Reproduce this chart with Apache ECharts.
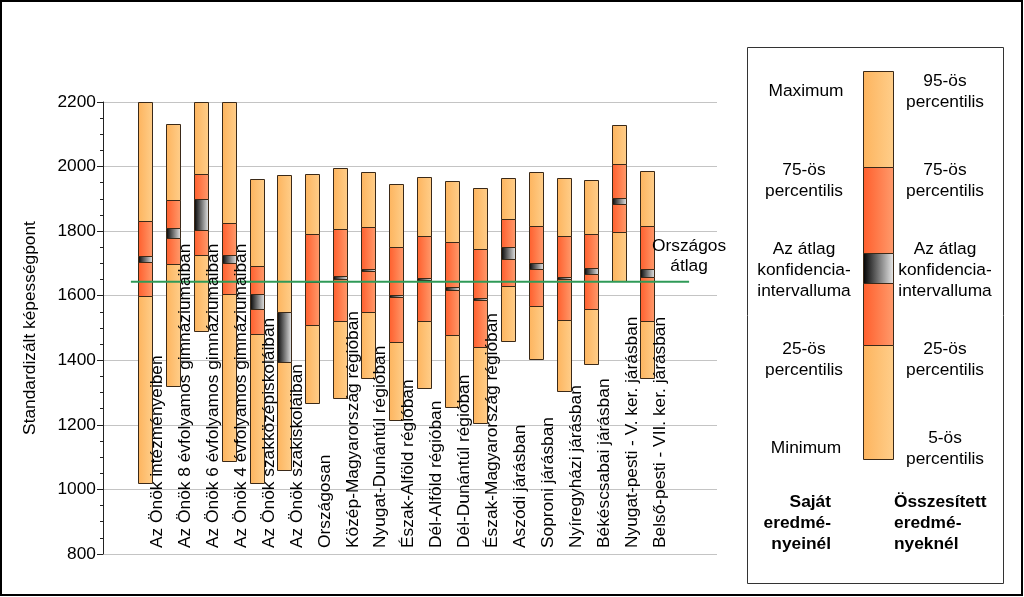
<!DOCTYPE html>
<html>
<head>
<meta charset="utf-8">
<script src="https://cdn.jsdelivr.net/npm/echarts@6/dist/echarts.min.js"></script>
<style>
html,body{margin:0;padding:0;background:#fff;}
#chart{width:1024px;height:597px;}
</style>
</head>
<body>
<div id="chart"></div>
<script>
// ---- data ----
const categories = [
  "Az Önök intézményeiben",
  "Az Önök 8 évfolyamos gimnáziumaiban",
  "Az Önök 6 évfolyamos gimnáziumaiban",
  "Az Önök 4 évfolyamos gimnáziumaiban",
  "Az Önök szakközépiskoláiban",
  "Az Önök szakiskoláiban",
  "Országosan",
  "Közép-Magyarország régióban",
  "Nyugat-Dunántúl régióban",
  "Észak-Alföld régióban",
  "Dél-Alföld régióban",
  "Dél-Dunántúl régióban",
  "Észak-Magyarország régióban",
  "Aszódi járásban",
  "Soproni járásban",
  "Nyíregyházi járásban",
  "Békéscsabai járásban",
  "Nyugat-pesti - V. ker. járásban",
  "Belső-pesti - VII. ker. járásban"
];
const lowValues  = [1021,1320,1492,1088,1021,1060,1267,1282,1346,1215,1315,1256,1205,1461,1403,1305,1388,1646,1344];
const p25Values  = [1599,1697,1727,1604,1480,1396,1508,1523,1550,1457,1523,1478,1440,1630,1568,1524,1558,1796,1523];
const ciLoValues = [1705,1778,1804,1700,1558,1396,1641,1653,1676,1596,1650,1619,1586,1713,1684,1651,1667,1883,1657];
const ciHiValues = [1723,1811,1899,1725,1605,1549,1645,1661,1682,1603,1656,1626,1593,1752,1700,1657,1685,1902,1682];
const p75Values  = [1832,1896,1976,1824,1692,1549,1790,1806,1814,1752,1784,1767,1744,1838,1817,1786,1790,2008,1815];
const highValues = [2200,2132,2200,2200,1960,1973,1977,1995,1984,1945,1967,1956,1933,1964,1984,1964,1958,2129,1987];
const nationalMean = 1643;
const yTicks = [800,1000,1200,1400,1600,1800,2000,2200];

// ---- styles ----
const FONT = 'Liberation Sans, Arial, sans-serif';
const FS = 17.33;
const light = {type:'linear',x:0,y:0,x2:1,y2:0,colorStops:[{offset:0,color:'#FDB45E'},{offset:1,color:'#FFCE8A'}]};
const orange = {type:'linear',x:0,y:0,x2:1,y2:0,colorStops:[{offset:0,color:'#FF5E2C'},{offset:1,color:'#FF9B6C'}]};
const ci = {type:'linear',x:0,y:0,x2:1,y2:0,colorStops:[{offset:0,color:'#000000'},{offset:1,color:'#EAEAEA'}]};
const STROKE = '#3a2918';
const segFills = [light, orange, ci, orange, light];
const BAR_HALF = 7;
const LABEL_SHIFT = 0.45;

const boxData = categories.map((c, i) => [i, lowValues[i], p25Values[i], ciLoValues[i], ciHiValues[i], p75Values[i], highValues[i]]);

function renderBox(params, api) {
  const x = api.value(0);
  const vals = [1,2,3,4,5,6].map(d => api.value(d));
  const children = [];
  const cx = Math.round(api.coord([x, vals[0]])[0]) + 0.5;
  for (let s = 0; s < 5; s++) {
    const yA = Math.round(api.coord([x, vals[s]])[1]) + 0.5;
    const yB = Math.round(api.coord([x, vals[s+1]])[1]) + 0.5;
    if (yA - yB < 0.5) continue;
    children.push({
      type: 'rect',
      shape: {x: cx - BAR_HALF, y: yB, width: BAR_HALF*2, height: yA - yB},
      style: {fill: segFills[s], stroke: STROKE, lineWidth: 1}
    });
  }
  return {type: 'group', children};
}

// legend graphic
const LX = 863.5, LW = 30;
const legendSegs = [[71.5,167.5,light],[167.5,253.5,orange],[253.5,283.5,ci],[283.5,345.5,orange],[345.5,459.5,light]];
const txt = (x, y, text, extra) => Object.assign({
  type: 'text', x, y,
  style: Object.assign({text, font: FS + 'px ' + FONT, fill: '#000', textAlign: 'center', textVerticalAlign: 'middle', lineHeight: 21}, extra || {})
});
const legendGraphics = [
  {type:'rect', shape:{x:1, y:1, width:1021, height:594}, style:{fill:'none', stroke:'#000', lineWidth:2}},
  {type:'rect', shape:{x:747.5, y:47.5, width:256, height:536}, style:{fill:'#fff', stroke:'#333', lineWidth:1}},
  ...legendSegs.map(s => ({type:'rect', shape:{x:LX, y:s[0], width:LW, height:s[1]-s[0]}, style:{fill:s[2], stroke:STROKE, lineWidth:1}})),
  txt(806, 91, 'Maximum'),
  txt(804, 181, '75-ös\npercentilis'),
  txt(804, 270, 'Az átlag\nkonfidencia-\nintervalluma'),
  txt(804, 360, '25-ös\npercentilis'),
  txt(806, 448, 'Minimum'),
  txt(945, 92, '95-ös\npercentilis'),
  txt(945, 181, '75-ös\npercentilis'),
  txt(945, 270, 'Az átlag\nkonfidencia-\nintervalluma'),
  txt(945, 360, '25-ös\npercentilis'),
  txt(945, 449, '5-ös\npercentilis'),
  txt(831, 523, 'Saját\neredmé-\nnyeinél', {font:'bold ' + FS + 'px ' + FONT, textAlign:'right'}),
  txt(894, 523, 'Összesített\neredmé-\nnyeknél', {font:'bold ' + FS + 'px ' + FONT, textAlign:'left'})
];

const chart = echarts.init(document.getElementById('chart'), null, {renderer:'canvas'});
chart.setOption({
  animation: false,
  backgroundColor: '#fff',
  grid: {left: 103, right: 307, top: 102, bottom: 43, containLabel: false},
  xAxis: {
    type: 'value', min: -1.5, max: 20.5, z: 10,
    axisLine: {show: false, onZero: false}, axisTick: {show: false}, splitLine: {show: false},
    axisLabel: {
      inside: true, rotate: 90, margin: 6,
      customValues: categories.map((c, i) => i + LABEL_SHIFT),
      formatter: v => categories[Math.round(v - LABEL_SHIFT)] || '',
      fontFamily: FONT, fontSize: FS, color: '#000'
    }
  },
  yAxis: {
    type: 'value', min: yTicks[0], max: yTicks[yTicks.length-1], interval: 200,
    name: 'Standardizált képességpont', nameLocation: 'middle', nameGap: 64,
    nameTextStyle: {fontFamily: FONT, fontSize: FS, color: '#000'},
    axisLine: {show: true, onZero: false, lineStyle: {color: '#222', width: 1}},
    axisTick: {show: true, length: 6, lineStyle: {color: '#222'}},
    minorTick: {show: true, splitNumber: 4, length: 3, lineStyle: {color: '#222'}},
    axisLabel: {margin: 7, fontFamily: FONT, fontSize: FS, color: '#000', formatter: v => String(v)},
    splitLine: {show: true, interval: (idx, val) => (+val) % 400 === 0, lineStyle: {color: '#c4c4c4', width: 1}}
  },
  series: [
    {
      type: 'custom', renderItem: renderBox, data: boxData, z: 2,
      encode: {x: 0, y: [1,2,3,4,5,6]}
    },
    {
      type: 'line', z: 5, symbol: 'circle', symbolSize: 0.1, showSymbol: true,
      lineStyle: {color: '#2f9a57', width: 2},
      itemStyle: {color: '#2f9a57'},
      data: [
        [-0.5, nationalMean],
        {value: [categories.length + 0.5, nationalMean],
         label: {show: true, position: 'top', distance: 6, formatter: 'Országos\nátlag',
                 fontFamily: FONT, fontSize: FS, lineHeight: 20, color: '#000'}}
      ]
    }
  ],
  graphic: legendGraphics
});
</script>
</body>
</html>
